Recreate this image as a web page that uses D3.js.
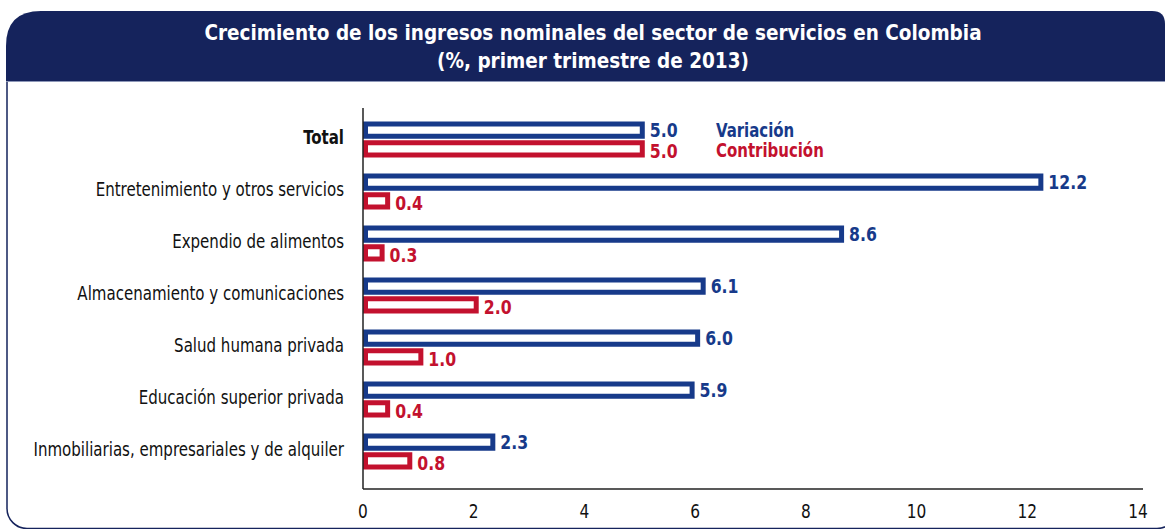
<!DOCTYPE html>
<html>
<head>
<meta charset="utf-8">
<script src="https://cdn.jsdelivr.net/npm/d3@7"></script>
<style>
  body { margin: 0; background: #fff; }
  text { font-family: "DejaVu Sans Condensed", "DejaVu Sans", sans-serif; }
</style>
</head>
<body>
<div class="chart"></div>
<script>

const categories = ["Total", "Entretenimiento y otros servicios", "Expendio de alimentos",
  "Almacenamiento y comunicaciones", "Salud humana privada", "Educación superior privada",
  "Inmobiliarias, empresariales y de alquiler"]
const variacion = [5.0, 12.2, 8.6, 6.1, 6.0, 5.9, 2.3]
const contribucion = [5.0, 0.4, 0.3, 2.0, 1.0, 0.4, 0.8]
const seriesNames = ["Variación", "Contribución"]
const xTicks = [0, 2, 4, 6, 8, 10, 12, 14]
const titleLines = ["Crecimiento de los ingresos nominales del sector de servicios en Colombia",
  "(%, primer trimestre de 2013)"]

const navy = "#15235c"
const blue = "#173a8a"
const red = "#c3112e"

const dimensions = { width: 1165, height: 529 }

const wrapper = d3.select(".chart")
    .append("svg")
    .attr("width", dimensions.width)
    .attr("height", dimensions.height)

// squeeze text horizontally (reference font is very narrow)
function squeeze(sel, sx) {
  sel.attr("transform", function () {
    const x = +this.getAttribute("x"), y = +this.getAttribute("y")
    return `translate(${x},${y}) scale(${sx},1)`
  }).attr("x", 0).attr("y", 0)
}

// frame
wrapper.append("rect")
    .attr("x", 7).attr("y", 60)
    .attr("width", 1170).attr("height", 468.5)
    .attr("rx", 20)
    .attr("fill", "#fff")
    .attr("stroke", navy)
    .attr("stroke-width", 1.5)

const hx0 = 6, hx1 = 1165, hy0 = 11, hy1 = 81
wrapper.append("path")
    .attr("d", `M${hx0},${hy1} V${hy0 + 35} Q${hx0},${hy0} ${hx0 + 35},${hy0}
      H${hx1 - 13} Q${hx1},${hy0} ${hx1},${hy0 + 13} V${hy1} Z`)
    .attr("fill", navy)

wrapper.append("line")
    .attr("x1", hx0).attr("x2", hx1)
    .attr("y1", hy1 + 0.5).attr("y2", hy1 + 0.5)
    .attr("stroke", "#8d97b8")
    .attr("stroke-width", 1)

const title = wrapper.append("g")
title.selectAll("text")
    .data(titleLines)
    .join("text")
    .attr("x", 593)
    .attr("y", (d, i) => 40 + i * 27.5)
    .attr("text-anchor", "middle")
    .attr("fill", "#fff")
    .attr("font-weight", "bold")
    .attr("font-size", 20.5)
    .text(d => d)
    .call(squeeze, 1.0)

// scales
const x = d3.scaleLinear()
    .domain([0, 14])
    .range([363, 1138])

const y = d3.scaleBand()
    .domain(categories)
    .range([113.5, 477.5])

const ySub = d3.scaleBand()
    .domain(seriesNames)
    .range([-18, 18])
    .paddingInner(0.08)

const colors = d3.scaleOrdinal().domain(seriesNames).range([blue, red])

const rows = categories.map((c, i) => ({ cat: c, values: [
  { key: seriesNames[0], v: variacion[i] },
  { key: seriesNames[1], v: contribucion[i] }] }))

const sw = 5
const groups = wrapper.append("g")
  .selectAll("g")
  .data(rows)
  .join("g")
    .attr("transform", d => `translate(0,${y(d.cat) + y.bandwidth() / 2})`)

groups.selectAll("rect")
    .data(d => d.values)
    .join("rect")
    .attr("x", x(0) + sw / 2)
    .attr("y", d => ySub(d.key) + sw / 2)
    .attr("width", d => x(d.v) - x(0))
    .attr("height", ySub.bandwidth() - sw)
    .attr("fill", "#fff")
    .attr("stroke", d => colors(d.key))
    .attr("stroke-width", sw)

groups.selectAll("text.val")
    .data(d => d.values)
    .join("text")
    .attr("class", "val")
    .attr("x", d => x(d.v) + 5 + 5)
    .attr("y", (d, i) => ySub(d.key) + ySub.bandwidth() / 2 + 7 + i * 2)
    .attr("fill", d => colors(d.key))
    .attr("font-weight", "bold")
    .attr("font-size", 19)
    .text(d => d3.format(".1f")(d.v))
    .call(squeeze, 0.92)

// legend next to Total
const totalCenter = y(categories[0]) + y.bandwidth() / 2
wrapper.append("g")
  .selectAll("text")
  .data(seriesNames)
  .join("text")
    .attr("x", 716)
    .attr("y", (d, i) => totalCenter + ySub(d) + ySub.bandwidth() / 2 + 7 + i * 1.5)
    .attr("fill", d => colors(d))
    .attr("font-weight", "bold")
    .attr("font-size", 19)
    .text(d => d)
    .call(squeeze, 0.875)

// category labels
wrapper.append("g")
  .selectAll("text")
  .data(categories)
  .join("text")
    .attr("x", 344)
    .attr("y", d => y(d) + y.bandwidth() / 2 + 4)
    .attr("text-anchor", "end")
    .attr("fill", "#111")
    .attr("font-size", 19)
    .attr("font-weight", (d, i) => i === 0 ? "bold" : "normal")
    .text(d => d)
    .call(squeeze, 0.88)

// axes
const axisY = 489
wrapper.append("line")
    .attr("x1", x(0)).attr("x2", x(0))
    .attr("y1", 108).attr("y2", axisY)
    .attr("stroke", "#222").attr("stroke-width", 1.5)

wrapper.append("line")
    .attr("x1", x(0)).attr("x2", x(14) + 5)
    .attr("y1", axisY).attr("y2", axisY)
    .attr("stroke", "#222").attr("stroke-width", 1.5)

wrapper.append("g")
  .selectAll("text")
  .data(xTicks)
  .join("text")
    .attr("x", d => x(d))
    .attr("y", 518)
    .attr("text-anchor", "middle")
    .attr("fill", "#111")
    .attr("font-size", 19)
    .text(d => d)
    .call(squeeze, 0.9)

</script>
</body>
</html>
